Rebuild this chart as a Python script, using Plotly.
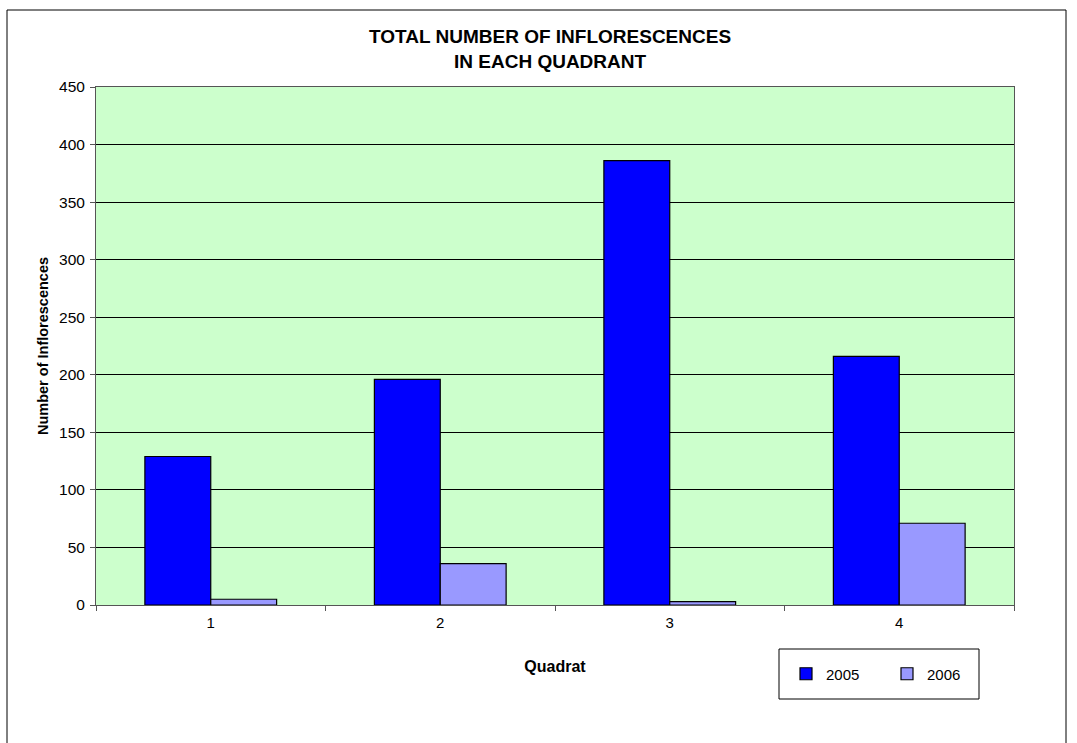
import plotly.graph_objects as go

quadrats = ["1", "2", "3", "4"]
y2005 = [129, 196, 386, 216]
y2006 = [5, 36, 3, 71]
series_names = ["2005", "2006"]
title_lines = ["TOTAL NUMBER OF INFLORESCENCES", "IN EACH QUADRANT"]

FONT = "Liberation Sans, Arial, sans-serif"

fig = go.Figure()
fig.add_trace(go.Bar(x=quadrats, y=y2005, name=series_names[0],
                     marker=dict(color="#0000FF", line=dict(color="black", width=1.2))))
fig.add_trace(go.Bar(x=quadrats, y=y2006, name=series_names[1],
                     marker=dict(color="#9999FF", line=dict(color="black", width=1.2))))

W, H = 1077, 743
L, R, T, B = 96, 63, 87, 138
PW, PH = W - L - R, H - T - B


def px_x(x):
    return (x - L) / PW


def px_y(y):
    return (H - B - y) / PH


fig.update_layout(
    width=W, height=H,
    margin=dict(l=L, r=R, t=T, b=B),
    paper_bgcolor="white",
    plot_bgcolor="#CCFFCC",
    barmode="group",
    bargap=0.426,
    bargroupgap=0,
    font=dict(family=FONT, size=15, color="black"),
    showlegend=True,
    legend=dict(
        orientation="h",
        x=px_x(786), y=px_y(674),
        xanchor="left", yanchor="middle",
        bgcolor="rgba(0,0,0,0)", borderwidth=0,
        font=dict(family=FONT, size=15),
        itemwidth=30,
        entrywidth=56,
        tracegroupgap=0,
    ),
    xaxis=dict(
        type="category",
        showgrid=False,
        showline=True, linecolor="#555555", linewidth=1,
        ticks="outside", tickson="boundaries", ticklen=5, tickcolor="#555555",
        ticklabelstandoff=4,
        tickfont=dict(size=15, family=FONT),
        title=dict(text="<b>Quadrat</b>", font=dict(size=16, family=FONT), standoff=30),
        mirror=True,
    ),
    yaxis=dict(
        range=[0, 450],
        dtick=50,
        showgrid=True, gridcolor="black", gridwidth=1,
        showline=True, linecolor="#555555", linewidth=1,
        ticks="outside", ticklen=5, tickcolor="#555555",
        ticklabelstandoff=2,
        tickfont=dict(size=15.5, family=FONT),
        title=dict(text="<b>Number of Inflorescences</b>", font=dict(size=14.5, family=FONT), standoff=6),
        mirror=True,
        zeroline=False,
    ),
    shapes=[
        dict(type="rect", xref="paper", yref="paper",
             x0=px_x(7), x1=px_x(1066), y0=px_y(H + 10), y1=px_y(10),
             line=dict(color="black", width=1), layer="below"),
        dict(type="rect", xref="paper", yref="paper",
             x0=px_x(779), x1=px_x(979), y0=px_y(699), y1=px_y(649),
             line=dict(color="black", width=1), fillcolor="white", layer="below"),
    ],
    annotations=[
        dict(text="<b>" + title_lines[0] + "</b>", xref="paper", yref="paper",
             x=px_x(550), y=px_y(37), xanchor="center", yanchor="middle",
             showarrow=False, font=dict(size=19, family=FONT)),
        dict(text="<b>" + title_lines[1] + "</b>", xref="paper", yref="paper",
             x=px_x(550), y=px_y(62), xanchor="center", yanchor="middle",
             showarrow=False, font=dict(size=19, family=FONT)),
    ],
)

fig.write_html("out.html")
